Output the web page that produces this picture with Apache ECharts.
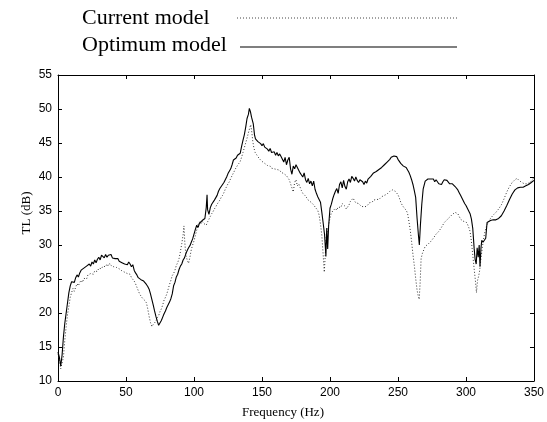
<!DOCTYPE html>
<html>
<head>
<meta charset="utf-8">
<script src="https://cdn.jsdelivr.net/npm/echarts@6/dist/echarts.min.js"></script>
<style>html,body{margin:0;padding:0;background:#fff;}#c{width:547px;height:422px;}</style>
</head>
<body>
<div id="c"></div>
<script>
const xTicks = [0, 50, 100, 150, 200, 250, 300, 350];
const yTicks = [10, 15, 20, 25, 30, 35, 40, 45, 50, 55];
const seriesNames = ['Current model', 'Optimum model'];

const optimumFreq = [0,1,2,3,4,5,6,7,8,9,10,11,12,13,14,15,16,17,18,19,20,21,22,23,24,25,26,27,28,29,30,31,32,33,34,35,36,37,38,39,40,41,42,43,44,45,46,47,48,49,50,51,52,53,54,55,56,57,58,59,60,61,62,63,64,65,66,67,68,69,70,71,72,73,74,75,76,77,78,79,80,81,82,83,84,85,86,87,88,89,90,91,92,93,94,95,96,97,98,99,100,101,102,103,104,105,106,107,108,109,109.6,110,111,112,113,114,115,116,117,118,119,120,121,122,123,124,125,126,127,128,129,130,131,132,133,134,135,136,137,138,139,140,140.7,141.5,142.3,143,143.6,144.5,145.2,146,147,148,149,150,151,152,153,154,155,156,157,158,159,160,161,162,163,164,165,166,167,168,169,170,171,172,173,174,175,176,177,178,179,180,181,182,183,184,185,186,187,188,189,190,191,192,193,194,195,196,197,197.6,198.3,199,200,201,202,203,204,205,206,207,208,209,210,211,212,213,214,215,216,217,218,219,220,221,222,223,224,225,226,227,228,229,230,231,232,233,234,235,236,237,238,239,240,241,242,243,244,245,246,247,248,249,250,251,252,253,254,255,256,257,258,259,260,261,262,263,264,265,265.7,266.5,267.5,268.5,270,271,272,273,274,275,276,277,278,279,280,281,282,283,284,285,286,287,288,289,290,291,292,293,294,295,296,297,298,299,300,301,302,303,304,305,306,306.7,307.5,308.2,309,309.7,310.3,311,311.6,312.5,313.5,314.5,315.5,316.5,318,320,322,324,326,328,330,332,334,336,338,340,342,344,346,348,350];
const optimumTL = [14.3,13.5,12.2,13.8,16.5,18.5,20,21.5,23,24,24.6,24.8,24.5,25.2,25.6,25.3,25.9,26.3,26.1,26.6,26.4,26.9,26.7,27.2,26.9,27.5,27.2,27.8,27.4,27.9,28.2,27.8,28.5,28.3,28.1,28.6,28.2,28.5,28.3,28.6,28.1,28.3,28,27.8,28,27.6,27.8,27.4,27.6,27.2,27.4,27.1,27.5,27.2,26.8,27.1,26.3,25.9,25.6,25.2,25.3,24.9,25,24.7,24.6,24.2,23.9,23.5,22.8,22,21.2,20.3,19.5,18.8,18.2,18.4,18.9,19.4,19.9,20.3,20.8,21,21.6,22.1,22.8,24,24.5,25.3,25.7,26.4,26.9,27.2,27.8,28.1,28.7,29.2,29.6,29.9,30.4,30.9,31.6,32.3,32.9,32.6,33.2,33.1,33.6,33.4,33.9,35.5,37.4,35.2,34.5,35.5,36,35.8,36.6,36.4,37.3,37.9,38.3,38.6,38.4,39.2,39.6,40,40.5,40.3,41.2,41.8,42.5,42.3,42.8,43.2,43,43.5,44.5,45.4,46.2,47.3,48.6,49.2,50.1,49.6,48.8,48.9,47.8,46.2,45.6,45.8,45.2,45.3,44.9,44.6,44.9,44.4,44.2,44.1,43.8,44.2,43.6,43.4,43.7,43.2,43.6,43.1,43.4,43,42.6,42.2,42.9,41.8,42.5,42.9,41.2,40.4,41.6,41.2,41.8,41.4,41,40.6,40.3,40,40.6,39.6,39.2,39.8,39,39.4,38.7,39.4,38.2,37.6,37.1,36.7,36.3,34.8,33.2,31.5,28.3,32.5,29.4,32.8,35.4,36,36.8,37.4,37.9,38.3,37.6,38.9,39.3,38.4,39.5,38.6,38.2,39.3,39.7,39.2,40.1,39.8,39.4,40,39.5,39.2,39.6,39.8,39.3,38.9,39.4,39.1,39.7,39.5,40.1,40.3,40.6,40.4,40.8,40.9,41.1,41,41.4,41.6,41.8,41.9,42.2,42.4,42.6,42.9,43,43.1,43.2,43,42.6,42.3,42,41.8,41.6,41.5,41.4,41.2,40.7,40.2,39.6,38.9,38,37,34,31.5,30,33,36,38.2,39.4,39.6,39.7,39.6,39.7,39.5,39.7,39.3,39.6,39.5,39,39.2,38.9,39.3,39.6,39.4,39.5,39.3,39,39.2,39,38.8,38.6,38.4,38.1,37.7,37.3,36.9,36.5,36.1,35.8,35.4,35,34.6,33.8,32.4,29.5,27.9,27.2,29.6,28.2,30,26.8,29.5,30.7,30.4,30.6,31,33.3,33.5,33.6,33.7,33.7,33.9,34.3,35,35.8,36.7,37.5,38.1,38.4,38.5,38.5,38.7,38.9,39.2,39.5];

const currentFreq = [0,1,2,3,4,5,6,7,8,9,10,11,12,13,14,15,16,17,18,19,20,21,22,23,24,25,26,27,28,29,30,31,32,33,34,35,36,37,38,39,40,41,42,43,44,45,46,47,48,49,50,51,52,53,54,55,56,57,58,59,60,61,62,63,64,65,66,67,68,69,70,71,72,73,74,75,76,77,78,79,80,81,82,83,84,85,86,87,88,89,90,91,92,92.6,93.2,94,95,96,97,98,99,100,101,102,103,104,105,106,107,108,109,110,111,112,113,114,115,116,117,118,119,120,121,122,123,124,125,126,127,128,129,130,131,132,133,134,135,136,137,138,139,140,141,141.7,142.5,143.2,144,145,146,147,148,149,150,151,152,153,154,155,156,157,158,159,160,161,162,163,164,165,166,167,168,169,170,171,172,173,174,175,176,177,178,179,180,181,182,183,184,185,186,187,188,189,190,191,192,193,194,195,195.8,196.6,197.3,198.3,199.5,200.8,202,203,204,205,206,207,208,209,210,211,212,213,214,215,216,217,218,219,220,221,222,223,224,225,226,227,228,229,230,231,232,233,234,235,236,237,238,239,240,241,242,243,244,245,246,247,248,249,250,251,252,253,254,255,256,257,258,259,260,261,262,263,264,265,265.6,266.3,267,268,269,270,272,274,276,278,280,282,284,286,288,290,292,293,294,295,296,297,298,299,300,301,302,303,304,305,306,307,307.7,308.5,309.3,310.1,311,312,313,314,315,316,318,320,322,324,326,328,330,332,334,336,337.5,339,341,343,345,347,349,350];
const currentTL = [14,13.2,11.8,11.6,13.5,16,18,19.8,21,22.3,23,23.6,23.2,23.8,24.3,24,24.5,24.8,24.5,25.1,25.3,25,25.6,25.4,25.8,26,25.7,26.2,26.4,26.1,26.6,26.8,26.5,26.9,27.1,26.8,27.2,26.9,27.3,27,27.2,26.8,27,26.7,26.9,26.5,26.6,26.2,26.4,26,26.1,25.8,25.6,25.7,25.2,25,24.7,24.3,23.8,23.6,22.8,22.9,22.2,22.4,21.8,21.5,20.6,19.5,18.6,18,18.3,18.2,18.8,19.3,19.6,20.2,20.6,21.2,21.9,22.3,22.8,23.5,24.2,24.8,25.5,25.8,26.3,27,27.4,28,29,30.2,31.5,32.8,30.5,28.5,27.8,27.3,28.2,29.3,30,30.6,31.4,32.2,33,33.4,33.1,33.5,33.2,33.3,32.9,33.4,33.8,34.2,34.6,34.9,35.3,35.6,36,36.3,36.6,37,37.3,37.7,38.2,38.6,39,39.3,39.8,40.2,40.6,41,41.4,41.7,42,42.3,42.9,43.6,44.3,45,45.7,46.5,47.2,47.7,46.6,45.3,44.3,43.6,43.3,43,42.7,42.5,42.3,42.1,42,41.8,41.7,41.5,41.6,41.3,41.4,41.2,41,41.1,40.9,41,40.7,40.8,40.5,40.6,40.2,40.3,39.6,39,38.4,37.8,39.2,39.6,38.7,39,38.5,38,37.6,37.8,37.2,36.9,36.6,36.8,36.3,36.1,35.9,35.6,35.4,35.1,34.4,33.1,31.4,28.5,26,28.8,31.5,32.2,33.5,34.6,35,35.2,35.4,35.1,35.6,35.8,35.5,36.1,35.9,35.7,35.3,35.4,35.9,36.4,36.6,36.9,36.5,36.2,36,36.1,35.9,35.7,35.8,35.6,35.5,35.7,35.9,36.2,36.4,36.3,36.6,36.5,36.7,36.8,36.7,36.9,37.1,37.2,37.3,37.4,37.5,37.7,37.9,38,38.1,38.1,37.9,37.8,37.4,36.9,36.3,35.9,35.6,35.4,35.1,34.7,33.5,32.2,30.5,28.6,27,25.1,23.4,22.4,22,24.5,28,28.8,29.3,29.8,30.1,30.5,31,31.6,32,32.6,33.3,33.7,34.1,34.5,34.8,34.9,34.6,34.2,33.8,33.6,33.5,33.4,33.4,33.1,32.6,32,30.5,28.5,26.5,24.6,23,24.8,25.4,26.3,28,29.6,31,32,32.7,33.2,33.9,34.4,34.8,35.3,35.9,36.8,37.8,38.6,39.2,39.6,39.8,39.5,39.2,39,39,39.2,39.6,40];

const zip = (fs, vs) => fs.map((f, i) => [f, vs[i]]);

const chart = echarts.init(document.getElementById('c'), null, {renderer: 'canvas'});
const axisCommon = {
  type: 'value',
  axisLine: {show: true, onZero: false, lineStyle: {color: '#000', width: 1}},
  axisTick: {show: true, inside: true, length: 4, lineStyle: {color: '#000'}},
  splitLine: {show: false}
};
chart.setOption({
  animation: false,
  backgroundColor: '#fff',
  grid: {left: 58, right: 9, top: 75, bottom: 41, containLabel: false},
  xAxis: [
    Object.assign({}, axisCommon, {
      position: 'bottom', min: xTicks[0], max: xTicks[xTicks.length - 1], interval: 50,
      axisLabel: {color: '#000', fontFamily: 'Liberation Sans', fontSize: 12, margin: 6}
    }),
    Object.assign({}, axisCommon, {
      position: 'top', min: xTicks[0], max: xTicks[xTicks.length - 1], interval: 50,
      axisLabel: {show: false}
    })
  ],
  yAxis: [
    Object.assign({}, axisCommon, {
      position: 'left', min: yTicks[0], max: yTicks[yTicks.length - 1], interval: 5,
      axisLabel: {color: '#000', fontFamily: 'Liberation Sans', fontSize: 12, margin: 6}
    }),
    Object.assign({}, axisCommon, {
      position: 'right', min: yTicks[0], max: yTicks[yTicks.length - 1], interval: 5,
      axisLabel: {show: false}
    })
  ],
  graphic: [
    {type: 'text', x: 82, y: 18, style: {text: seriesNames[0], font: '22px "Liberation Serif"', fill: '#000', verticalAlign: 'middle'}},
    {type: 'line', shape: {x1: 237, y1: 18, x2: 457, y2: 18}, style: {stroke: '#444', lineWidth: 1, lineDash: [1, 2]}},
    {type: 'text', x: 82, y: 45, style: {text: seriesNames[1], font: '22px "Liberation Serif"', fill: '#000', verticalAlign: 'middle'}},
    {type: 'line', shape: {x1: 240, y1: 47, x2: 457, y2: 47}, style: {stroke: '#000', lineWidth: 1.2}},
    {type: 'text', x: 27, y: 213, rotation: Math.PI / 2, style: {text: 'TL (dB)', font: '13px "Liberation Serif"', fill: '#000', align: 'center', verticalAlign: 'middle'}},
    {type: 'text', x: 283, y: 413, style: {text: 'Frequency (Hz)', font: '13px "Liberation Serif"', fill: '#000', align: 'center', verticalAlign: 'middle'}}
  ],
  series: [
    {
      name: seriesNames[0], type: 'line', xAxisIndex: 0, yAxisIndex: 0,
      data: zip(currentFreq, currentTL), showSymbol: false, symbol: 'none',
      lineStyle: {color: '#333', width: 1, type: [1, 2]}
    },
    {
      name: seriesNames[1], type: 'line', xAxisIndex: 0, yAxisIndex: 0,
      data: zip(optimumFreq, optimumTL), showSymbol: false, symbol: 'none',
      lineStyle: {color: '#000', width: 1.1}
    }
  ]
});
</script>
</body>
</html>
